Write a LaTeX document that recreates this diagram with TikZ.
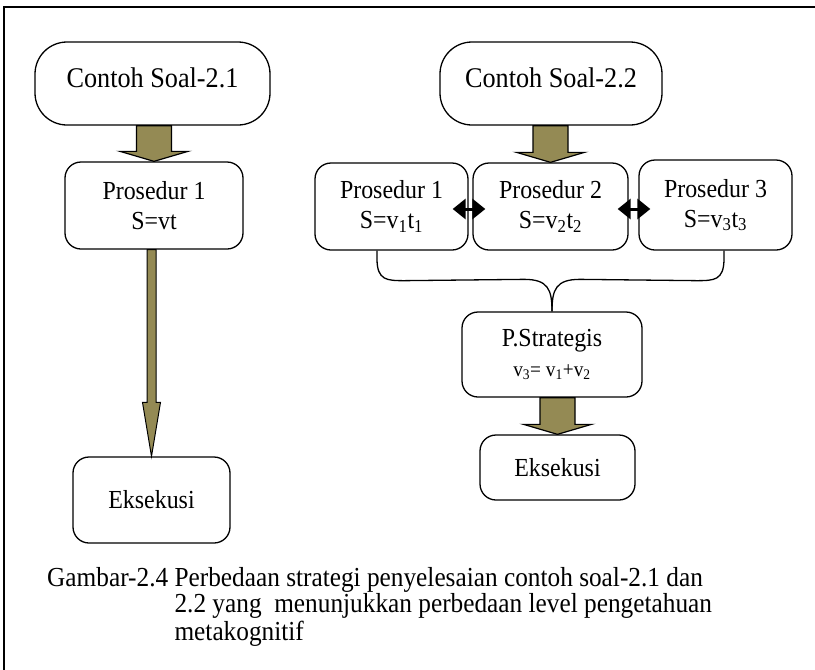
\documentclass[tikz,border=0pt]{standalone}
\usepackage{fontspec}
\setmainfont[FakeStretch=0.92]{Liberation Serif}
\usetikzlibrary{calc,arrows.meta}
\definecolor{olivefill}{RGB}{148,138,84}

% vertical block arrow from the bottom of one node to the top of another:
% #2 source, #3 target, #4 half shaft width, #5 half head width, #6 head length
\newcommand\blockarrow[6][]{%
  \draw[blockarrow,#1] let \p1=(#2), \p2=(#3) in
    (\x2-#4,\y1) -- (\x2-#4,\y2+#6) -- (\x2-#5,\y2+#6) -- (\x2,\y2)
    -- (\x2+#5,\y2+#6) -- (\x2+#4,\y2+#6) -- (\x2+#4,\y1) -- cycle;}

\begin{document}
\begin{tikzpicture}[x=1pt,y=-1pt,
  box/.style={draw, line width=1.3pt, rounded corners=16pt, align=center,
    inner sep=0pt, font=\fontsize{26}{30}\selectfont},
  startbox/.style={box, rounded corners=32pt, font=\fontsize{28.5}{30}\selectfont},
  blockarrow/.style={draw, line width=1.2pt, fill=olivefill, line join=miter},
  pairarrow/.style={line width=3pt,
    {Triangle[width=20pt,length=13pt]}-{Triangle[width=20pt,length=13pt]}},
  brace/.style={draw, line width=1.3pt},
  frame/.style={line width=1.5pt},
  caption/.style={anchor=base west, inner sep=0pt, align=left,
    font=\fontsize{27.5}{26}\selectfont}
]
\useasboundingbox (0,0) rectangle (815,670);
\draw[frame] (4,670) -- (4,7) -- (815,7);

% left column
\node[startbox, minimum width=235pt, minimum height=83pt, text height=16pt, text depth=9pt] (cs1) at (152.5,83.5) {Contoh Soal-2.1};
\node[box, minimum width=178pt, minimum height=87pt] (pa) at (154,205.5) {Prosedur 1\\S=vt};
\node[box, minimum width=157pt, minimum height=86pt] (ea) at (151.5,500) {Eksekusi};

% right column
\node[startbox, minimum width=222pt, minimum height=83pt, text height=16pt, text depth=9pt] (cs2) at (551,83.5) {Contoh Soal-2.2};
\node[box, minimum width=153pt, minimum height=87pt] (p1) at (391.5,206.5) {Prosedur 1\\S=v\textsubscript{1}t\textsubscript{1}};
\node[box, minimum width=155pt, minimum height=87pt] (p2) at (550.5,206.5) {Prosedur 2\\S=v\textsubscript{2}t\textsubscript{2}};
\node[box, minimum width=153pt, minimum height=90pt] (p3) at (715.5,205) {Prosedur 3\\S=v\textsubscript{3}t\textsubscript{3}};
\node[box, minimum width=180pt, minimum height=85pt] (ps) at (552,354.5)
  {P.Strategis\\{\fontsize{21}{23}\selectfont v\textsubscript{3}= v\textsubscript{1}+v\textsubscript{2}}};
\node[box, minimum width=155pt, minimum height=65pt] (eb) at (557.5,467.5) {Eksekusi};

% block arrows
\blockarrow{cs1.south}{pa.north}{17.5pt}{34pt}{10pt}
\blockarrow[line width=1pt]{pa.south}{ea.north}{4.5pt}{9pt}{54pt}
\blockarrow{cs2.south}{p2.north}{17.5pt}{34pt}{10pt}
\blockarrow{ps.south}{eb.north}{17.5pt}{34pt}{10pt}

% double arrows between the procedures
\draw[pairarrow] ($(p1.east)+(-16,2.5)$) -- ($(p2.west)+(13,2.5)$);
\draw[pairarrow] ($(p2.east)+(-11,2.5)$) -- ($(p3.west)+(12,4)$);

% brace joining procedures 1 and 3 into the strategy box
\coordinate (bl) at ($(p1.south)+(-14.5,0)$);
\coordinate (br) at ($(p3.south)+(8.5,0)$);
\draw[brace] (bl) -- ($(bl)+(0,8)$) .. controls ($(bl)+(0,30)$) and ($(bl)+(10,30)$) .. ($(bl)+(28,30)$)
  -- ($(ps.north)+(-28,-32)$) .. controls ($(ps.north)+(-4,-32)$) and ($(ps.north)+(0,-22)$) .. (ps.north);
\draw[brace] (br) -- ($(br)+(0,8)$) .. controls ($(br)+(0,30)$) and ($(br)+(-10,30)$) .. ($(br)+(-28,30)$)
  -- ($(ps.north)+(28,-32)$) .. controls ($(ps.north)+(4,-32)$) and ($(ps.north)+(0,-22)$) .. (ps.north);

% caption
\node[caption] (cap) at (47,586) {%
  \begin{tabular}[t]{@{}l@{ }l@{}}
  Gambar-2.4 & Perbedaan strategi penyelesaian contoh soal-2.1 dan\\
             & 2.2 yang\ \ menunjukkan perbedaan level pengetahuan\\
             & metakognitif
  \end{tabular}};
\end{tikzpicture}
\end{document}
